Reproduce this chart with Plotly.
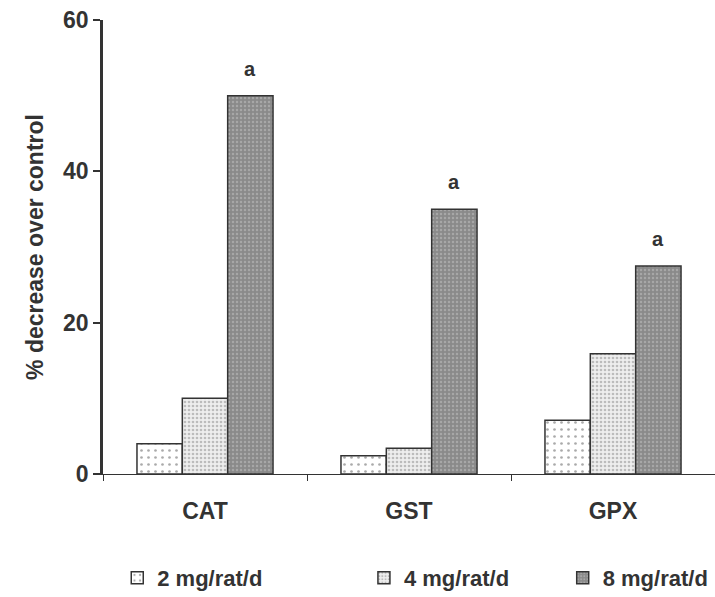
import plotly.graph_objects as go

enzymes = ["CAT", "GST", "GPX"]
doses = ["2 mg/rat/d", "4 mg/rat/d", "8 mg/rat/d"]
dose_2 = [4.0, 2.4, 7.1]
dose_4 = [10.0, 3.4, 15.9]
dose_8 = [50.0, 35.0, 27.5]
sig_labels = ["a", "a", "a"]

FONT = "Liberation Sans, Arial, sans-serif"
INK = "#333333"
BAR_GAP = 0.333

patterns = [
    dict(shape=".", bgcolor="#ffffff", fgcolor="#555555", size=7, solidity=0.12),
    dict(shape=".", bgcolor="#eeeeee", fgcolor="#8a8a8a", size=4, solidity=0.35),
    dict(shape=".", bgcolor="#8a8a8a", fgcolor="#c4c4c4", size=4, solidity=0.3),
]
legends = ["legend", "legend2", "legend3"]
legend_x = [0.164, 0.509, 0.787]

fig = go.Figure()
for name, vals, pat, lg in zip(doses, [dose_2, dose_4, dose_8], patterns, legends):
    fig.add_trace(go.Bar(
        x=enzymes, y=vals, name=name, legend=lg, showlegend=True,
        marker=dict(color=pat["bgcolor"], pattern=pat,
                    line=dict(color=INK, width=1.5)),
    ))

# significance letters above the highest-dose bars
bar_w = (1 - BAR_GAP) / len(doses)
for i, (val, lab) in enumerate(zip(dose_8, sig_labels)):
    fig.add_annotation(
        x=i + bar_w, y=val, xref="x", yref="y", text=lab, showarrow=False,
        yanchor="bottom", yshift=14,
        font=dict(family=FONT, size=20, color=INK, weight="bold"),
    )

legend_style = dict(orientation="h", yanchor="middle", xanchor="left",
                    xref="container", yref="container", y=0.032,
                    font=dict(family=FONT, size=22, color=INK, weight="bold"),
                    bgcolor="rgba(0,0,0,0)", itemwidth=30)

layout_legends = {lg: dict(legend_style, x=lx) for lg, lx in zip(legends, legend_x)}

fig.update_layout(
    width=715, height=597,
    margin=dict(l=103, r=0, t=20, b=123, autoexpand=False),
    paper_bgcolor="white", plot_bgcolor="white",
    showlegend=True,
    barmode="group", bargap=BAR_GAP, bargroupgap=0,
    font=dict(family=FONT, size=23, color=INK),
    xaxis=dict(
        type="category",
        showline=True, linecolor=INK, linewidth=1,
        ticks="outside", tickson="boundaries", ticklen=6, tickcolor=INK,
        tickfont=dict(family=FONT, size=23, color=INK, weight="bold"),
        ticklabelstandoff=16, range=[-0.5, 2.5],
    ),
    yaxis=dict(
        range=[0, 60], tickvals=[0, 20, 40, 60],
        showline=True, linecolor=INK, linewidth=2.5,
        ticks="outside", ticklen=7, tickwidth=2, tickcolor=INK,
        showgrid=False, zeroline=False,
        tickfont=dict(family=FONT, size=23, color=INK, weight="bold"),
        title=dict(text="% decrease over control", standoff=14,
                   font=dict(family=FONT, size=23, color=INK, weight="bold")),
    ),
    **layout_legends,
)

fig.write_html("out.html")
